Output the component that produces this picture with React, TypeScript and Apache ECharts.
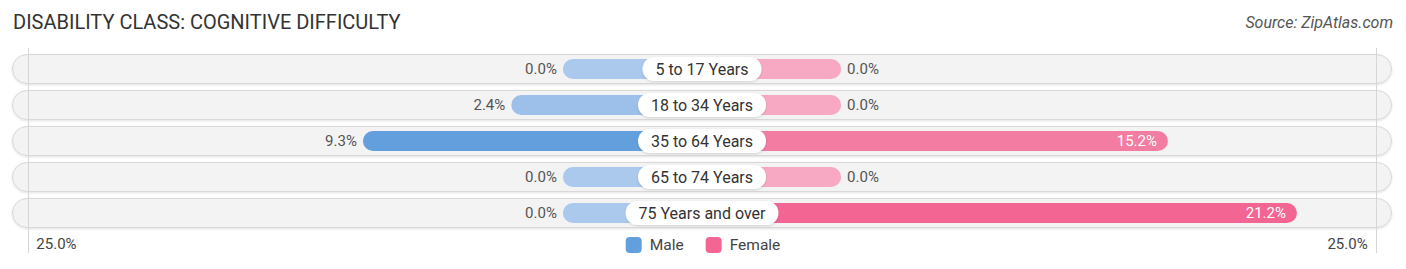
import React, { useEffect, useRef } from "react";
import * as echarts from "echarts";

const categories = ["5 to 17 Years", "18 to 34 Years", "35 to 64 Years", "65 to 74 Years", "75 Years and over"];
const maleValues = [0.0, 2.4, 9.3, 0.0, 0.0];
const femaleValues = [0.0, 0.0, 15.2, 0.0, 21.2];
const maleColors = ["#aac9ed", "#9dc0ea", "#639fdc", "#aac9ed", "#aac9ed"];
const femaleColors = ["#f7a9c3", "#f7a9c3", "#f27ca2", "#f7a9c3", "#f36592"];
const axisEndLabels = ["25.0%", "25.0%"];
const axisLimit = 25;

const OFFSET = 6.47; // visual minimum bar length (in % units)
const HALF = 32.09; // half-range of axis (in % units)

export default function App() {
  const ref = useRef<HTMLDivElement>(null);
  useEffect(() => {
    document.body.style.margin = "0";
    const chart = echarts.init(ref.current!, undefined, { renderer: "svg" });
    const font = "Roboto, 'Noto Sans', sans-serif";
    const option: any = {
      animation: false,
      textStyle: { fontFamily: font },
      title: [
        {
          text: "DISABILITY CLASS: COGNITIVE DIFFICULTY",
          left: 8,
          top: 7,
          textStyle: { fontSize: 20, fontWeight: "normal", color: "#333", fontFamily: font },
        },
        {
          text: "Source: ZipAtlas.com",
          right: 8,
          top: 9,
          textStyle: { fontSize: 16, fontWeight: "normal", fontStyle: "italic", color: "#555", fontFamily: font },
        },
      ],
      legend: {
        data: ["Male", "Female"],
        left: "center",
        top: 232,
        itemWidth: 16,
        itemHeight: 16,
        itemGap: 22,
        icon: "roundRect",
        textStyle: { fontSize: 15.5, color: "#444", fontFamily: font, padding: [0, 0, 0, 3] },
      },
      grid: { left: 12, right: 14, top: 51, bottom: 38 },
      xAxis: {
        type: "value",
        min: -HALF,
        max: HALF,
        show: false,
      },
      yAxis: {
        type: "category",
        data: categories,
        inverse: true,
        show: false,
      },
      series: [
        {
          type: "custom",
          silent: true,
          z: 0,
          data: categories.map((_, i) => [0, i]),
          encode: { x: 0, y: 1 },
          renderItem: (params: any, api: any) => {
            const y = api.value(1);
            const p0 = api.coord([-HALF, y]);
            const p1 = api.coord([HALF, y]);
            const h = 29;
            return {
              type: "rect",
              shape: { x: p0[0] + 0.5, y: p0[1] - h / 2, width: p1[0] - p0[0] - 1, height: h, r: h / 2 },
              style: {
                fill: "#f3f3f3",
                stroke: "#d8d8d8",
                lineWidth: 1,
                shadowBlur: 2,
                shadowOffsetY: 1,
                shadowColor: "rgba(0,0,0,0.12)",
              },
            };
          },
        },
        {
          name: "Male",
          type: "bar",
          z: 3,
          barWidth: 20,
          barGap: "-100%",
          itemStyle: { color: "#639fdc", borderRadius: 10 },
          data: maleValues.map((v, i) => ({
            value: -(OFFSET + v),
            itemStyle: { color: maleColors[i] },
          })),
          label: {
            show: true,
            position: "left",
            distance: 6,
            fontSize: 15,
            color: "#555",
            fontFamily: font,
            formatter: (p: any) => maleValues[p.dataIndex].toFixed(1) + "%",
          },
        },
        {
          name: "Female",
          type: "bar",
          z: 3,
          barWidth: 20,
          barGap: "-100%",
          itemStyle: { color: "#f36592", borderRadius: 10 },
          data: femaleValues.map((v, i) => ({
            value: OFFSET + v,
            itemStyle: { color: femaleColors[i] },
            label:
              v > 10
                ? { position: "insideRight", color: "#fff", distance: 11 }
                : { position: "right", color: "#555", distance: 6 },
          })),
          label: {
            show: true,
            fontSize: 15,
            fontFamily: font,
            formatter: (p: any) => femaleValues[p.dataIndex].toFixed(1) + "%",
          },
        },
        {
          type: "custom",
          silent: true,
          z: 10,
          data: categories.map((_, i) => [0, i]),
          encode: { x: 0, y: 1 },
          renderItem: (params: any, api: any) => {
            const idx = params.dataIndex;
            const p = api.coord([0, api.value(1)]);
            return {
              type: "text",
              x: p[0],
              y: p[1],
              z2: 100,
              style: {
                text: categories[idx],
                align: "center",
                verticalAlign: "middle",
                fontSize: 16,
                fontFamily: font,
                fill: "#333",
                backgroundColor: "#fff",
                borderRadius: 13,
                padding: [4, 13, 4, 13],
                shadowBlur: 2,
                shadowColor: "rgba(0,0,0,0.15)",
                shadowOffsetY: 1,
              },
            };
          },
        },
      ],
    };
    chart.setOption(option);

    const leftX = chart.convertToPixel({ gridIndex: 0 }, [-(OFFSET + axisLimit), 0])[0];
    const rightX = chart.convertToPixel({ gridIndex: 0 }, [OFFSET + axisLimit, 0])[0];
    chart.setOption({
      graphic: [
        {
          type: "line",
          z: 1,
          silent: true,
          shape: { x1: Math.round(leftX) + 3.5, y1: 48, x2: Math.round(leftX) + 3.5, y2: 253 },
          style: { stroke: "#d6d6d6", lineWidth: 1 },
        },
        {
          type: "line",
          z: 1,
          silent: true,
          shape: { x1: Math.round(rightX) - 2.5, y1: 48, x2: Math.round(rightX) - 2.5, y2: 253 },
          style: { stroke: "#d6d6d6", lineWidth: 1 },
        },
        {
          type: "text",
          x: leftX + 11,
          y: 244,
          style: { text: axisEndLabels[0], fontSize: 15, fill: "#444", fontFamily: font, textAlign: "left", textVerticalAlign: "middle" },
        },
        {
          type: "text",
          x: rightX - 11,
          y: 244,
          style: { text: axisEndLabels[1], fontSize: 15, fill: "#444", fontFamily: font, textAlign: "right", textVerticalAlign: "middle" },
        },
      ],
    });
    return () => chart.dispose();
  }, []);
  return <div ref={ref} style={{ width: 1406, height: 269 }} />;
}
